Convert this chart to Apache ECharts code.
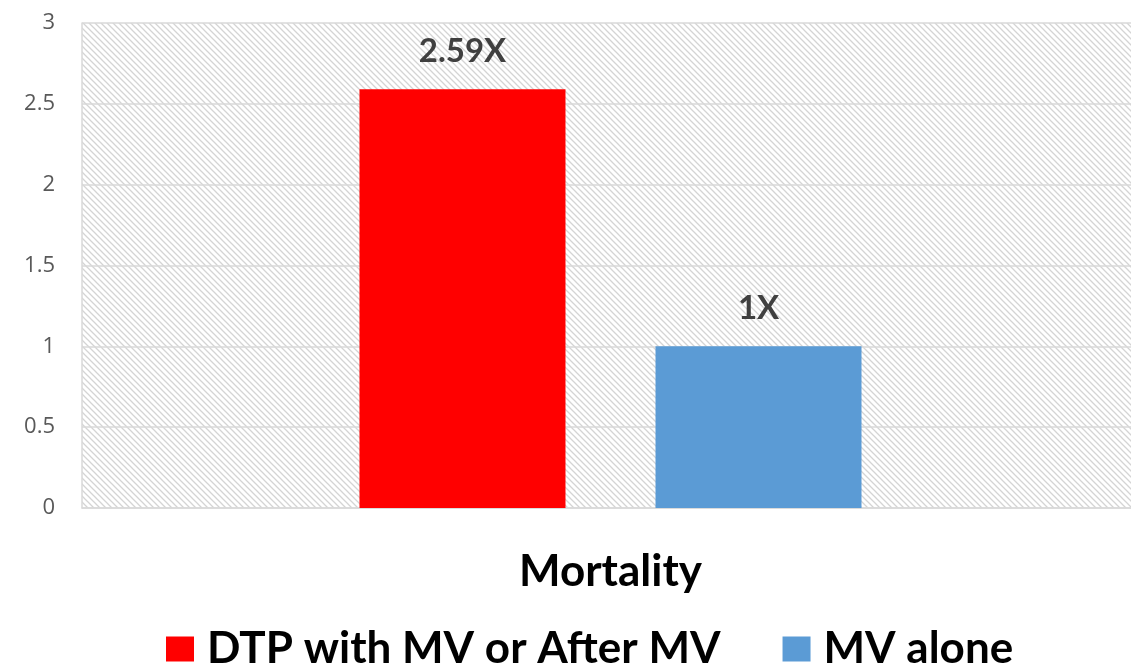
<!DOCTYPE html>
<html>
<head>
<meta charset="utf-8">
<script src="https://cdn.jsdelivr.net/npm/echarts@6/dist/echarts.min.js"></script>
<style>
  html, body { margin: 0; padding: 0; background: #ffffff; }
  #chart { width: 1131px; height: 669px; }
</style>
</head>
<body>
<div id="chart"></div>
<script>
const categories = ['Mortality'];
const seriesNames = ['DTP with MV or After MV', 'MV alone'];
const dtpValues = [2.59];
const mvValues = [1];
const yTicks = [0, 0.5, 1, 1.5, 2, 2.5, 3];

// Diagonal hatch tile for the plot background
function hatchTile() {
  const s = 6;
  const c = document.createElement('canvas');
  c.width = s; c.height = s;
  const g = c.getContext('2d');
  g.fillStyle = '#ffffff';
  g.fillRect(0, 0, s, s);
  g.strokeStyle = '#d4d4d4';
  g.lineWidth = 1.3;
  g.beginPath();
  g.moveTo(-1, -1); g.lineTo(s + 1, s + 1);
  g.moveTo(-1 - s, -1); g.lineTo(1, s + 1);
  g.moveTo(s - 1, -1); g.lineTo(2 * s + 1, s + 1);
  g.stroke();
  return c;
}

const chart = echarts.init(document.getElementById('chart'), null, { renderer: 'canvas' });
const labelStyle = {
  show: true,
  position: 'top',
  distance: 21,
  fontFamily: 'Lato, "Open Sans", sans-serif',
  fontWeight: 'bold',
  fontSize: 33,
  color: '#404040',
  formatter: p => p.value + 'X'
};

chart.setOption({
  animation: false,
  grid: {
    left: 82, right: -8, top: 23, bottom: 161,
    outerBoundsMode: 'none',
    containLabel: false,
    show: true,
    borderWidth: 0,
    backgroundColor: { image: hatchTile(), repeat: 'repeat' }
  },
  legend: {
    bottom: -2,
    left: 166,
    padding: 0,
    icon: 'rect',
    itemWidth: 28,
    itemHeight: 25,
    itemGap: 62,
    textStyle: {
      fontFamily: 'Lato, "Open Sans", sans-serif',
      fontWeight: 'bold',
      fontSize: 44,
      color: '#000000',
      padding: [0, 0, 0, 8]
    },
    data: seriesNames
  },
  xAxis: {
    type: 'category',
    data: categories,
    axisLine: { show: true, lineStyle: { color: '#d9d9d9', width: 1.5 } },
    axisTick: { show: false },
    axisLabel: {
      margin: 42,
      fontFamily: 'Lato, "Open Sans", sans-serif',
      fontWeight: 'bold',
      fontSize: 44,
      color: '#000000'
    }
  },
  yAxis: {
    type: 'value',
    min: yTicks[0],
    max: yTicks[yTicks.length - 1],
    interval: 0.5,
    axisLine: { show: true, lineStyle: { color: '#d9d9d9', width: 1.5 } },
    axisTick: { show: false },
    splitLine: { show: true, lineStyle: { color: '#d9d9d9', width: 1.5 } },
    axisLabel: {
      margin: 27,
      fontFamily: '"Open Sans", Lato, sans-serif',
      fontSize: 22,
      color: '#595959'
    }
  },
  series: [
    {
      name: seriesNames[0],
      type: 'bar',
      data: dtpValues,
      barWidth: 206,
      barGap: '43.7%',
      itemStyle: { color: '#ff0000' },
      label: labelStyle
    },
    {
      name: seriesNames[1],
      type: 'bar',
      data: mvValues,
      barWidth: 206,
      barGap: '43.7%',
      itemStyle: { color: '#5b9bd5' },
      label: labelStyle
    }
  ]
});
</script>
</body>
</html>
